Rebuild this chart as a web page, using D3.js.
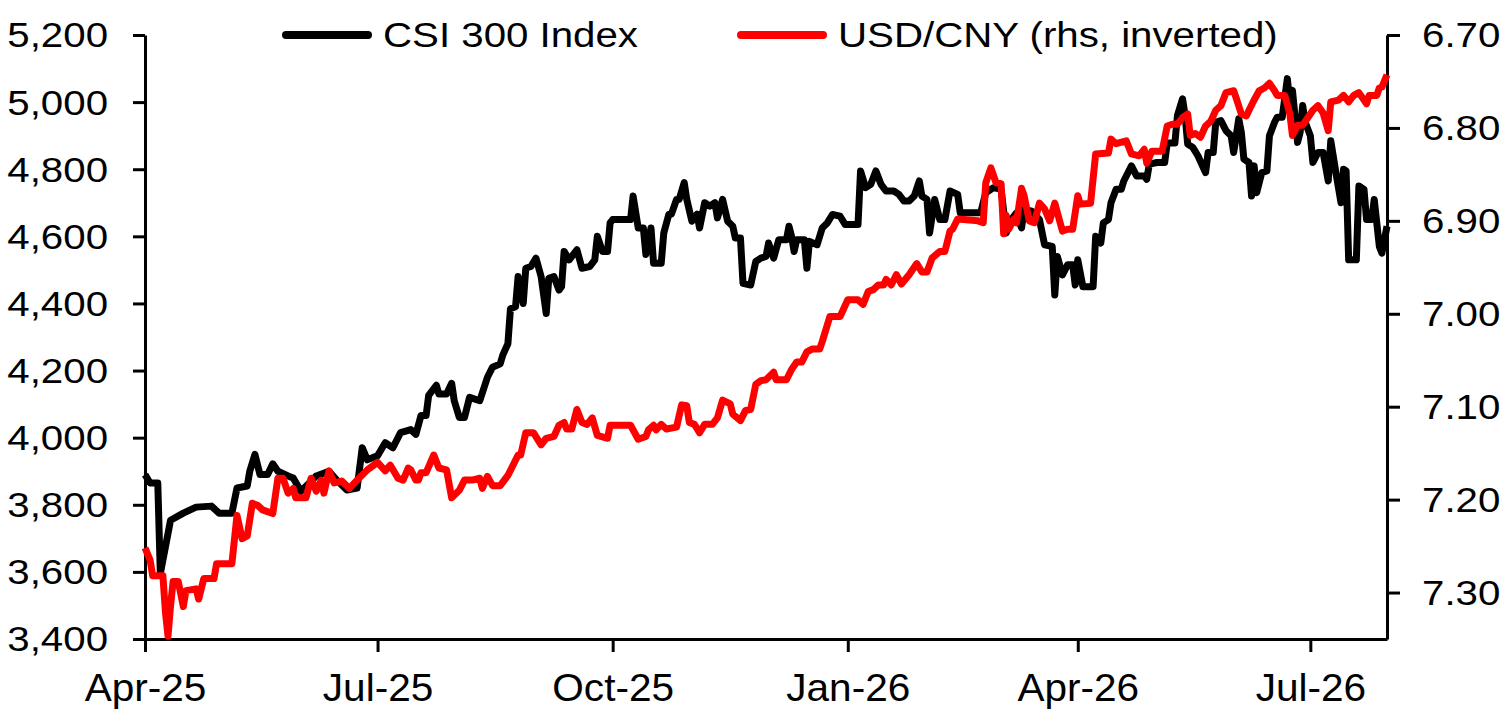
<!DOCTYPE html>
<html>
<head>
<meta charset="utf-8">
<script src="https://cdn.jsdelivr.net/npm/d3@7"></script>
<style>
  body { margin: 0; background: #fff; }
  svg { display: block; }
</style>
</head>
<body>
<div id="chart"></div>
<script>
// Data
const csiDates = [
  '2025-04-01','2025-04-03','2025-04-06','2025-04-07','2025-04-11','2025-04-16','2025-04-21','2025-04-27','2025-04-30',
  '2025-05-05','2025-05-07','2025-05-11','2025-05-12','2025-05-14','2025-05-16','2025-05-19','2025-05-21','2025-05-23','2025-05-27','2025-05-29',
  '2025-06-01','2025-06-05','2025-06-07','2025-06-12','2025-06-15','2025-06-19','2025-06-23','2025-06-25','2025-06-27',
  '2025-07-01','2025-07-04','2025-07-07','2025-07-10','2025-07-14','2025-07-16','2025-07-18','2025-07-20','2025-07-21','2025-07-24','2025-07-25','2025-07-28','2025-07-30','2025-07-31',
  '2025-08-02','2025-08-04','2025-08-06','2025-08-10','2025-08-13','2025-08-15','2025-08-18','2025-08-19','2025-08-21','2025-08-22','2025-08-24','2025-08-25','2025-08-27','2025-08-28','2025-08-30',
  '2025-09-01','2025-09-03','2025-09-05','2025-09-06','2025-09-08','2025-09-10','2025-09-11','2025-09-12','2025-09-14','2025-09-17','2025-09-19','2025-09-22','2025-09-24','2025-09-25','2025-09-27','2025-09-29','2025-09-30',
  '2025-10-01','2025-10-08','2025-10-09','2025-10-11','2025-10-13','2025-10-14','2025-10-16','2025-10-17','2025-10-20','2025-10-21','2025-10-23','2025-10-24','2025-10-26','2025-10-27','2025-10-29','2025-10-30',
  '2025-11-01','2025-11-03','2025-11-04','2025-11-06','2025-11-08','2025-11-10','2025-11-11','2025-11-13','2025-11-15','2025-11-17','2025-11-18','2025-11-20','2025-11-21','2025-11-24','2025-11-26','2025-11-28','2025-11-30',
  '2025-12-01','2025-12-03','2025-12-05','2025-12-08','2025-12-09','2025-12-10','2025-12-11','2025-12-12','2025-12-15','2025-12-16','2025-12-17','2025-12-20','2025-12-22','2025-12-24','2025-12-26','2025-12-29','2025-12-31',
  '2026-01-05','2026-01-06','2026-01-08','2026-01-10','2026-01-12','2026-01-14','2026-01-16','2026-01-19','2026-01-21','2026-01-23','2026-01-25','2026-01-27','2026-01-29','2026-01-30',
  '2026-02-01','2026-02-02','2026-02-04','2026-02-06','2026-02-08','2026-02-10','2026-02-13','2026-02-14','2026-02-22','2026-02-24','2026-02-27',
  '2026-03-02','2026-03-04','2026-03-06','2026-03-08','2026-03-10','2026-03-11','2026-03-14','2026-03-17','2026-03-19','2026-03-22','2026-03-23','2026-03-24','2026-03-26','2026-03-28','2026-03-30','2026-03-31',
  '2026-04-01','2026-04-03','2026-04-07','2026-04-08','2026-04-10','2026-04-11','2026-04-13','2026-04-14','2026-04-16','2026-04-18','2026-04-19','2026-04-22','2026-04-24','2026-04-27','2026-04-28','2026-04-29',
  '2026-05-02','2026-05-05','2026-05-06','2026-05-09','2026-05-10','2026-05-12','2026-05-13','2026-05-14','2026-05-16','2026-05-18','2026-05-21','2026-05-22','2026-05-24','2026-05-25','2026-05-27','2026-05-29','2026-05-31',
  '2026-06-01','2026-06-03','2026-06-04','2026-06-05','2026-06-07','2026-06-08','2026-06-09','2026-06-10','2026-06-12','2026-06-14','2026-06-15','2026-06-17','2026-06-18','2026-06-20','2026-06-22','2026-06-23','2026-06-24','2026-06-26','2026-06-27','2026-06-28','2026-06-29',
  '2026-07-01','2026-07-02','2026-07-04','2026-07-06','2026-07-08','2026-07-09','2026-07-11','2026-07-13','2026-07-14','2026-07-15','2026-07-16','2026-07-19','2026-07-20','2026-07-22','2026-07-23','2026-07-25','2026-07-26','2026-07-28','2026-07-29','2026-07-31'
];
const csiValues = [
  3890,3865,3865,3595,3754,3775,3793,3796,3775,
  3775,3850,3856,3900,3950,3890,3890,3922,3900,3886,3880,
  3840,3870,3886,3900,3874,3844,3850,3970,3934,
  3946,3985,3970,4015,4024,4010,4066,4066,4126,4156,4130,4130,4162,4110,
  4060,4060,4120,4110,4180,4210,4220,4246,4280,4384,4390,4480,4400,4505,4510,
  4535,4480,4370,4475,4480,4440,4450,4555,4530,4560,4505,4510,4530,4600,4555,4555,4640,
  4650,4650,4720,4625,4625,4546,4625,4520,4520,4610,4666,4666,4710,4710,4760,4710,
  4645,4666,4625,4700,4690,4700,4655,4710,4645,4630,4595,4595,4460,4455,4525,4535,4540,
  4580,4535,4590,4590,4630,4600,4555,4590,4590,4505,4585,4575,4625,4640,4665,4660,4635,
  4635,4795,4745,4755,4795,4755,4735,4735,4725,4705,4705,4720,4765,4720,
  4710,4610,4710,4650,4650,4735,4725,4670,4670,4730,4745,
  4740,4610,4650,4670,4625,4680,4675,4650,4575,4570,4425,4540,4485,4515,4515,4455,
  4530,4450,4450,4600,4580,4640,4650,4700,4740,4740,4765,4810,4780,4780,4770,4815,
  4820,4820,4878,4878,4960,5010,4960,4875,4865,4840,4790,4850,4850,4940,4945,4915,4900,
  4850,4950,4910,4830,4820,4720,4810,4730,4790,4795,4900,4940,4955,4955,5070,4995,5035,4880,4910,4990,4940,
  4900,4820,4850,4850,4765,4885,4790,4700,4800,4795,4530,4530,4750,4740,4650,4650,4710,4570,4550,4630
];

const cnyDates = [
  '2025-04-01','2025-04-03','2025-04-04','2025-04-08','2025-04-09','2025-04-10','2025-04-11','2025-04-12','2025-04-14','2025-04-16','2025-04-17','2025-04-21','2025-04-22','2025-04-24','2025-04-28','2025-04-29',
  '2025-05-05','2025-05-07','2025-05-09','2025-05-11','2025-05-13','2025-05-15','2025-05-17','2025-05-21','2025-05-23','2025-05-25','2025-05-27','2025-05-29','2025-05-30',
  '2025-06-03','2025-06-05','2025-06-07','2025-06-09','2025-06-10','2025-06-12','2025-06-14','2025-06-17','2025-06-20','2025-06-23','2025-06-27',
  '2025-07-01','2025-07-04','2025-07-06','2025-07-09','2025-07-11','2025-07-13','2025-07-14','2025-07-16','2025-07-17','2025-07-18','2025-07-20','2025-07-23','2025-07-25','2025-07-28','2025-07-30',
  '2025-08-02','2025-08-04','2025-08-07','2025-08-10','2025-08-11','2025-08-13','2025-08-15','2025-08-18','2025-08-21','2025-08-23','2025-08-25','2025-08-26','2025-08-28','2025-08-31',
  '2025-09-03','2025-09-05','2025-09-08','2025-09-10','2025-09-12','2025-09-13','2025-09-15','2025-09-17','2025-09-19','2025-09-21','2025-09-23','2025-09-25','2025-09-29','2025-09-30',
  '2025-10-08','2025-10-11','2025-10-14','2025-10-15','2025-10-17','2025-10-18','2025-10-20','2025-10-22','2025-10-26','2025-10-28','2025-10-30','2025-10-31',
  '2025-11-02','2025-11-04','2025-11-06','2025-11-09','2025-11-11','2025-11-13','2025-11-16','2025-11-17','2025-11-20','2025-11-22','2025-11-24','2025-11-26','2025-11-28','2025-11-30',
  '2025-12-03','2025-12-04','2025-12-08','2025-12-10','2025-12-12','2025-12-14','2025-12-16','2025-12-18','2025-12-21','2025-12-22','2025-12-25','2025-12-29',
  '2026-01-01','2026-01-05','2026-01-07','2026-01-09','2026-01-11','2026-01-13','2026-01-15','2026-01-16','2026-01-18','2026-01-20','2026-01-22','2026-01-25','2026-01-28','2026-01-30',
  '2026-02-01','2026-02-03','2026-02-06','2026-02-08','2026-02-10','2026-02-11','2026-02-13','2026-02-21','2026-02-23','2026-02-24','2026-02-26','2026-02-28',
  '2026-03-02','2026-03-03','2026-03-04','2026-03-05','2026-03-07','2026-03-08','2026-03-10','2026-03-11','2026-03-13','2026-03-15','2026-03-17','2026-03-19','2026-03-21','2026-03-23','2026-03-26','2026-03-28','2026-03-30',
  '2026-04-01','2026-04-02','2026-04-06','2026-04-08','2026-04-13','2026-04-14','2026-04-16','2026-04-20','2026-04-22','2026-04-25','2026-04-27','2026-04-28','2026-04-30',
  '2026-05-04','2026-05-06','2026-05-08','2026-05-10','2026-05-12','2026-05-14','2026-05-15','2026-05-17','2026-05-19','2026-05-21','2026-05-23','2026-05-25','2026-05-27','2026-05-29',
  '2026-06-01','2026-06-02','2026-06-04','2026-06-06','2026-06-07','2026-06-09','2026-06-11','2026-06-13','2026-06-15','2026-06-17','2026-06-18','2026-06-21','2026-06-23','2026-06-24','2026-06-26','2026-06-28','2026-06-30',
  '2026-07-02','2026-07-04','2026-07-06','2026-07-08','2026-07-09','2026-07-12','2026-07-14','2026-07-16','2026-07-18','2026-07-20','2026-07-23','2026-07-24','2026-07-27','2026-07-28','2026-07-29','2026-07-31'
];
const cnyValues = [
  7.252,7.265,7.282,7.282,7.321,7.347,7.314,7.288,7.288,7.315,7.298,7.296,7.307,7.285,7.285,7.269,
  7.269,7.217,7.242,7.239,7.204,7.206,7.211,7.215,7.177,7.177,7.193,7.188,7.198,
  7.198,7.177,7.191,7.179,7.193,7.169,7.182,7.180,7.188,7.179,7.168,
  7.160,7.169,7.163,7.177,7.179,7.166,7.168,7.179,7.179,7.171,7.171,7.152,7.166,7.168,7.198,
  7.190,7.179,7.179,7.177,7.188,7.175,7.185,7.185,7.174,7.163,7.152,7.152,7.128,7.128,
  7.141,7.134,7.132,7.120,7.117,7.124,7.124,7.103,7.117,7.119,7.112,7.131,7.134,7.120,
  7.120,7.135,7.132,7.125,7.120,7.125,7.119,7.124,7.122,7.098,7.099,7.117,
  7.119,7.128,7.119,7.119,7.112,7.093,7.097,7.108,7.115,7.104,7.103,7.076,7.072,7.071,
  7.063,7.071,7.071,7.060,7.052,7.052,7.041,7.038,7.038,7.030,7.003,7.003,
  6.985,6.985,6.990,6.976,6.974,6.969,6.969,6.963,6.969,6.958,6.968,6.958,6.946,6.955,
  6.955,6.940,6.933,6.933,6.911,6.909,6.898,6.900,6.902,6.859,6.843,6.859,
  6.860,6.914,6.894,6.909,6.898,6.902,6.865,6.873,6.900,6.902,6.881,6.887,6.900,6.881,6.911,6.909,6.909,
  6.873,6.882,6.881,6.828,6.827,6.812,6.817,6.814,6.828,6.830,6.823,6.838,6.825,
  6.825,6.798,6.796,6.796,6.789,6.785,6.808,6.806,6.810,6.798,6.793,6.781,6.776,6.762,
  6.760,6.768,6.785,6.787,6.781,6.770,6.760,6.757,6.752,6.760,6.765,6.765,6.785,6.808,6.797,6.797,6.789,
  6.781,6.776,6.784,6.803,6.772,6.770,6.765,6.772,6.765,6.762,6.774,6.765,6.765,6.757,6.756,6.743
];

const xTicks = ['2025-04-01','2025-07-01','2025-10-01','2026-01-01','2026-04-01','2026-07-01'];
const leftTicks = [3400, 3600, 3800, 4000, 4200, 4400, 4600, 4800, 5000, 5200];
const rightTicks = [6.70, 6.80, 6.90, 7.00, 7.10, 7.20, 7.30];

const chartWidth = 1510;
const chartHeight = 725;
const plot = {left: 145, right: 1387, top: 35, bottom: 639};
const font = '"Liberation Sans", Arial, Helvetica, sans-serif';
const stretch = 1.15;

const parse = d3.timeParse('%Y-%m-%d');
const csi = csiDates.map((d, i) => ({date: parse(d), num: csiValues[i]}));
const cny = cnyDates.map((d, i) => ({date: parse(d), num: cnyValues[i]}));

const xScale = d3.scaleTime()
    .domain([parse('2025-04-01'), parse('2026-07-31')])
    .range([plot.left, plot.right]);

const yLeft = d3.scaleLinear()
    .domain([3400, 5200])
    .range([plot.bottom, plot.top]);

// inverted: small values at the top
const yRight = d3.scaleLinear()
    .domain([6.70, 7.35])
    .range([plot.top, plot.bottom]);

const svg = d3.select('#chart')
    .append('svg')
    .attr('width', chartWidth)
    .attr('height', chartHeight)
    .style('background', '#fff');

function styleAxis(g) {
    g.attr('font-family', font);
    g.select('.domain').attr('stroke', '#000').attr('stroke-width', 3);
    g.selectAll('.tick line').attr('stroke', '#000').attr('stroke-width', 3);
    g.selectAll('.tick text').attr('fill', '#000');
}

// x axis
const xAxis = d3.axisBottom(xScale)
    .tickValues(xTicks.map(parse))
    .tickFormat(d3.timeFormat('%b-%y'))
    .tickSize(13)
    .tickSizeOuter(0);

svg.append('g')
    .attr('transform', 'translate(0,' + plot.bottom + ')')
    .call(xAxis)
    .call(styleAxis)
    .call(g => g.selectAll('.tick text')
        .attr('font-size', 39)
        .attr('y', 62)
        .attr('dy', 0)
        .attr('transform', 'scale(1.04,1)'));

// left axis
const yAxisL = d3.axisLeft(yLeft)
    .tickValues(leftTicks)
    .tickFormat(d3.format(','))
    .tickSize(12)
    .tickSizeOuter(0);

svg.append('g')
    .attr('transform', 'translate(' + plot.left + ',0)')
    .call(yAxisL)
    .call(styleAxis)
    .call(g => g.selectAll('.tick text')
        .attr('font-size', 35)
        .attr('x', -37 / stretch)
        .attr('dy', '0.34em')
        .attr('transform', 'scale(' + stretch + ',1)'));

// right axis
const yAxisR = d3.axisRight(yRight)
    .tickValues(rightTicks)
    .tickFormat(d3.format('.2f'))
    .tickSize(13)
    .tickSizeOuter(0);

svg.append('g')
    .attr('transform', 'translate(' + plot.right + ',0)')
    .call(yAxisR)
    .call(styleAxis)
    .call(g => g.selectAll('.tick text')
        .attr('font-size', 35)
        .attr('x', 35 / stretch)
        .attr('dy', '0.34em')
        .attr('transform', 'scale(' + stretch + ',1)'));

// lines
const lineL = d3.line()
    .x(d => xScale(d.date))
    .y(d => yLeft(d.num));

const lineR = d3.line()
    .x(d => xScale(d.date))
    .y(d => yRight(d.num));

svg.append('path')
    .datum(csi)
    .attr('fill', 'none')
    .attr('stroke', '#000')
    .attr('stroke-width', 7)
    .attr('stroke-linejoin', 'round')
    .attr('d', lineL);

svg.append('path')
    .datum(cny)
    .attr('fill', 'none')
    .attr('stroke', '#ff0000')
    .attr('stroke-width', 7)
    .attr('stroke-linejoin', 'round')
    .attr('d', lineR);

// legend
const legend = [
    {label: 'CSI 300 Index', color: '#000', x: 286},
    {label: 'USD/CNY (rhs, inverted)', color: '#ff0000', x: 741}
];

const lg = svg.append('g').selectAll('g')
    .data(legend)
    .join('g')
    .attr('transform', d => 'translate(' + d.x + ',35)');

lg.append('line')
    .attr('x1', 0).attr('x2', 82)
    .attr('stroke', d => d.color)
    .attr('stroke-width', 8)
    .attr('stroke-linecap', 'round');

lg.append('text')
    .attr('transform', 'translate(97,12) scale(' + stretch + ',1)')
    .attr('font-family', font)
    .attr('font-size', 35)
    .attr('fill', '#000')
    .text(d => d.label);
</script>
</body>
</html>
